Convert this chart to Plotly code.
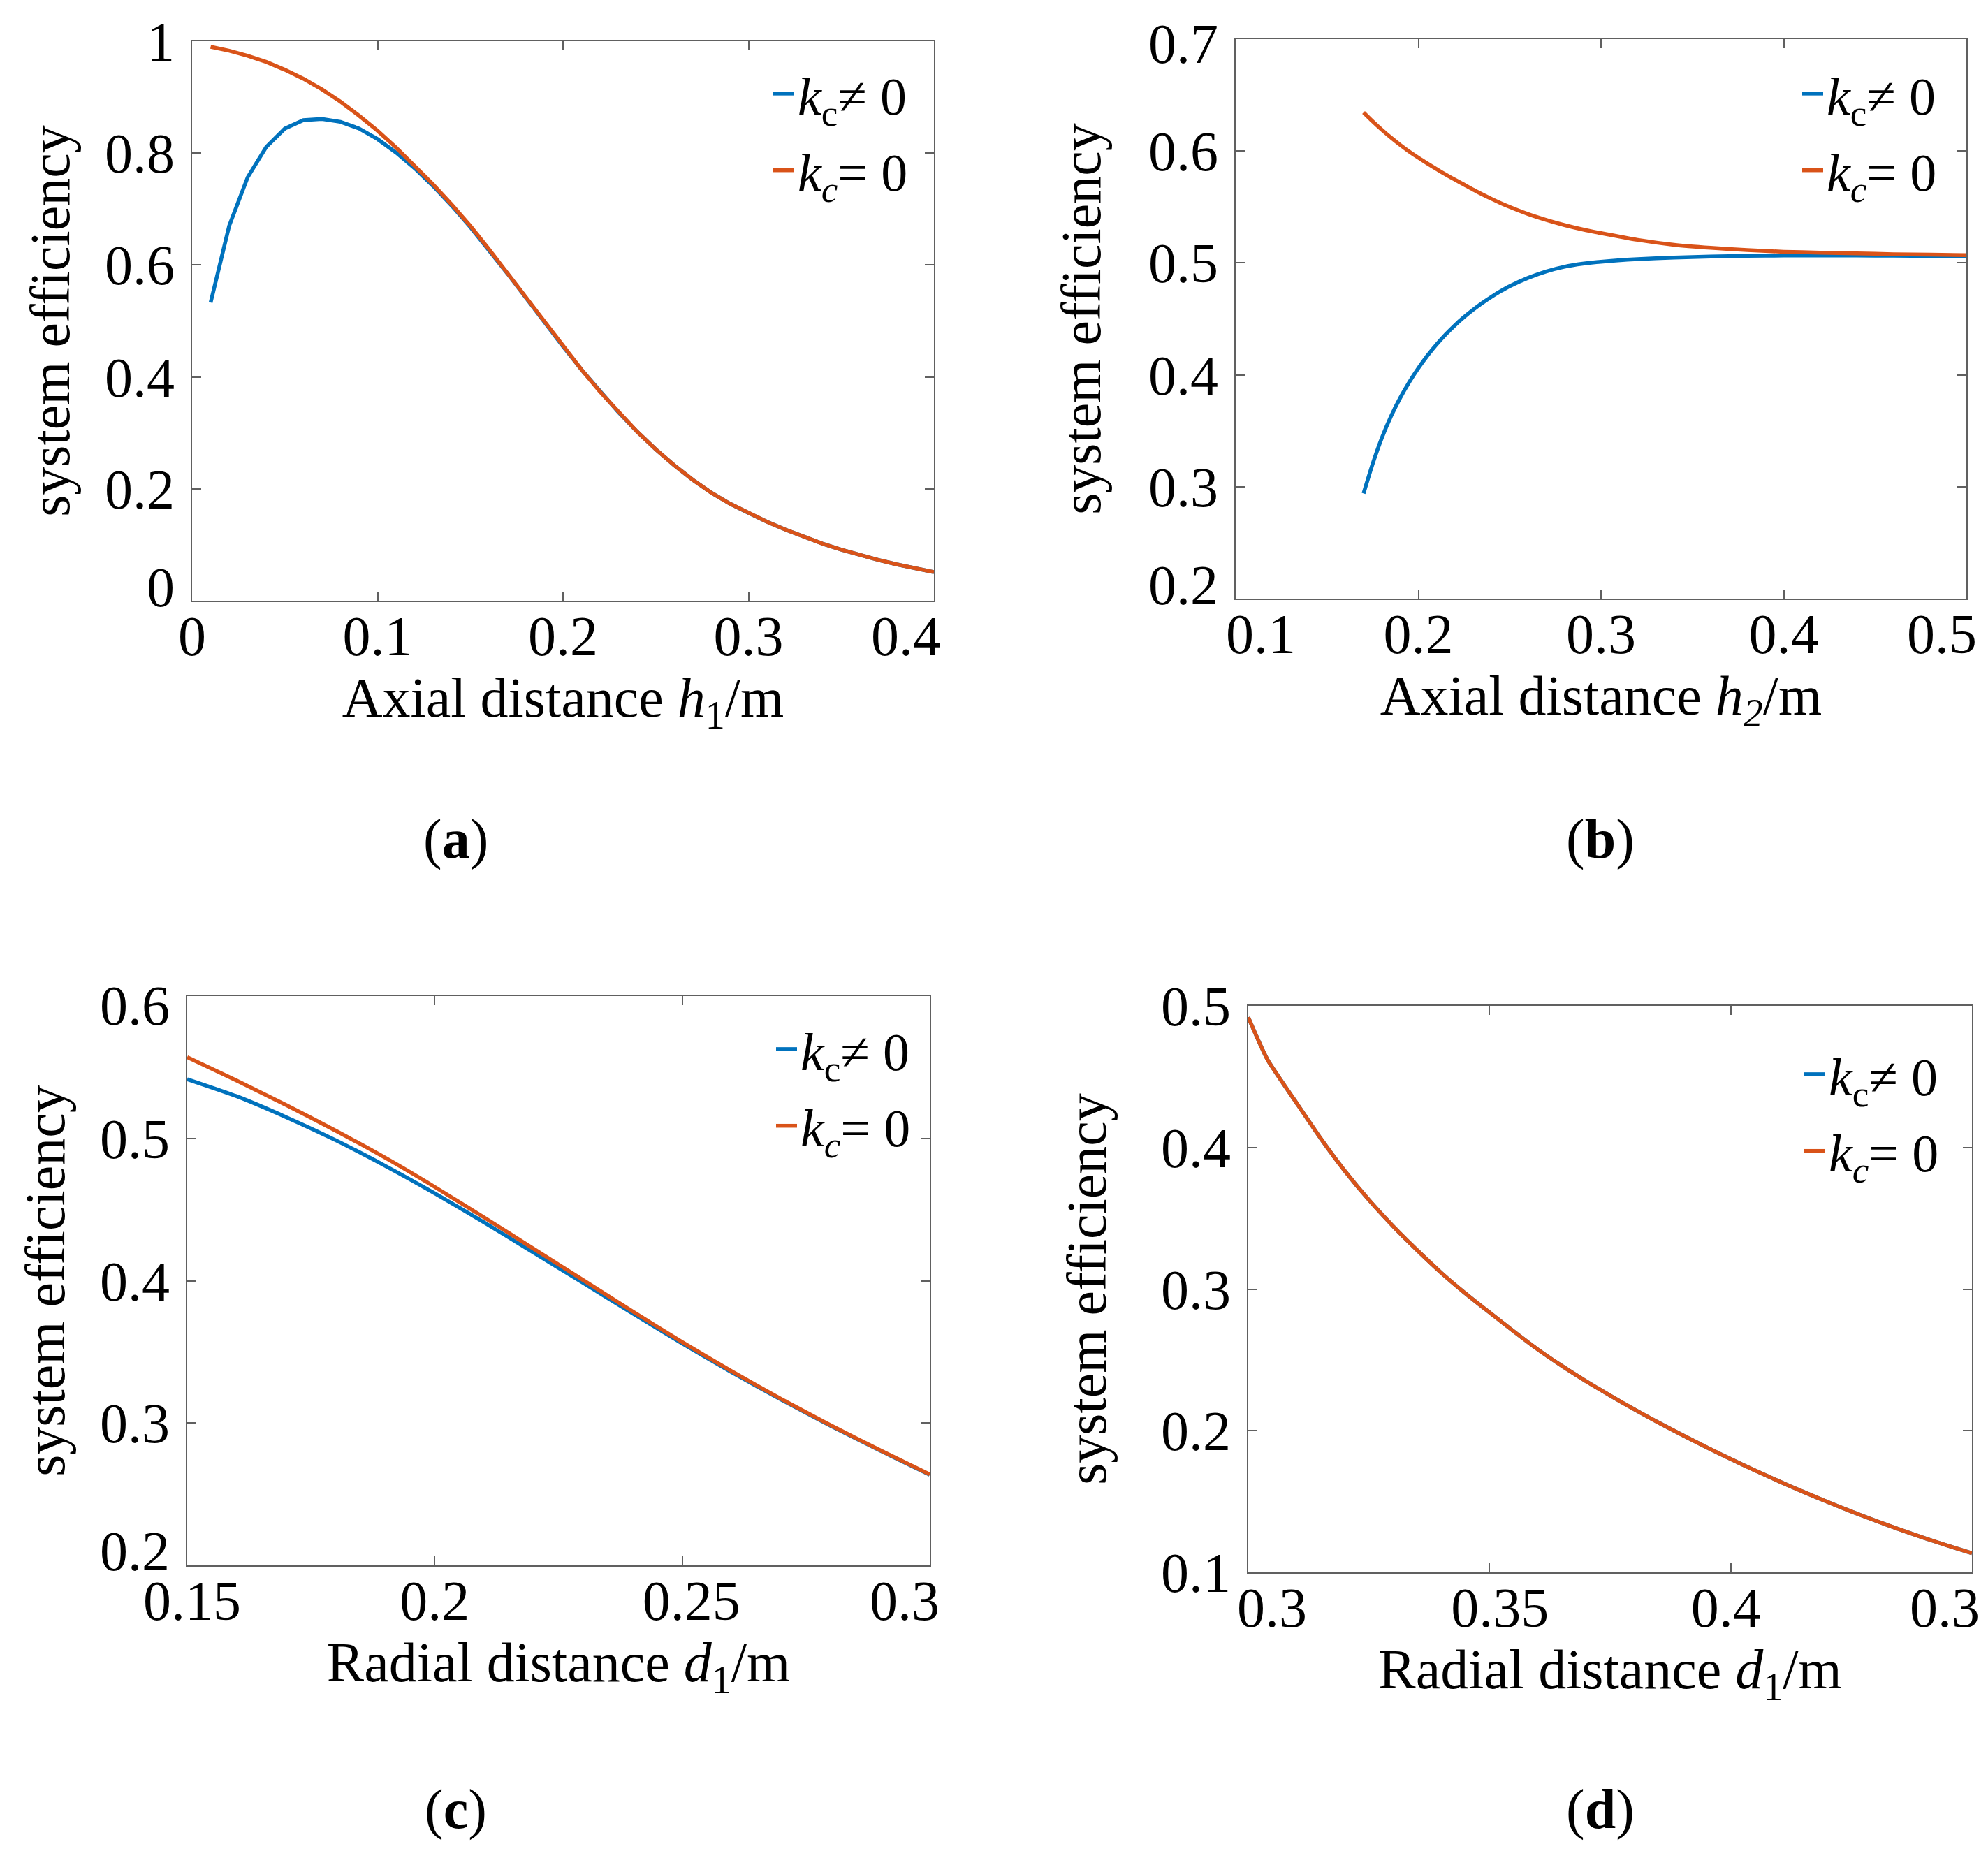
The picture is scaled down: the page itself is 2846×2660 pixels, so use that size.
import plotly.graph_objects as go

W, H = 2846, 2660
FONT = "Liberation Serif"
BLUE = "#0072BD"
ORANGE = "#D95319"

# ---------------- data ----------------
# (a) axial distance h1
a_x = [0.01, 0.02, 0.03, 0.04, 0.05, 0.06, 0.07, 0.08, 0.09, 0.10,
       0.11, 0.12, 0.13, 0.14, 0.15, 0.16, 0.17, 0.18, 0.19, 0.20,
       0.21, 0.22, 0.23, 0.24, 0.25, 0.26, 0.27, 0.28, 0.29, 0.30,
       0.31, 0.32, 0.33, 0.34, 0.35, 0.36, 0.37, 0.38, 0.39, 0.40]
a_kc = [0.533, 0.670, 0.757, 0.811, 0.844, 0.859, 0.861, 0.856, 0.844, 0.825,
        0.801, 0.773, 0.741, 0.706, 0.668, 0.627, 0.585, 0.5415, 0.4975, 0.4545,
        0.4130, 0.3735, 0.3365, 0.3020, 0.2705, 0.2420, 0.2160, 0.1930, 0.1735, 0.1570,
        0.1410, 0.1270, 0.1140, 0.1020, 0.0912, 0.0815, 0.0728, 0.0650, 0.0578, 0.0512]
a_k0 = [0.990, 0.983, 0.974, 0.963, 0.949, 0.933, 0.914, 0.892, 0.867, 0.840,
        0.810, 0.778, 0.744, 0.708, 0.670, 0.6285, 0.5855, 0.5415, 0.4975, 0.4545,
        0.4130, 0.3735, 0.3365, 0.3020, 0.2705, 0.2420, 0.2160, 0.1930, 0.1735, 0.1570,
        0.1410, 0.1270, 0.1140, 0.1020, 0.0912, 0.0815, 0.0728, 0.0650, 0.0578, 0.0512]

# (b) axial distance h2
b_x = [0.170, 0.175, 0.180, 0.185, 0.190, 0.195, 0.200, 0.205, 0.210, 0.215,
       0.220, 0.225, 0.230, 0.235, 0.240, 0.245, 0.250, 0.260, 0.270, 0.280,
       0.290, 0.300, 0.320, 0.340, 0.360, 0.380, 0.400, 0.420, 0.440, 0.460,
       0.480, 0.500]
b_kc = [0.294, 0.3205, 0.3435, 0.3628, 0.3792, 0.3934, 0.4060, 0.4172, 0.4272, 0.4362,
        0.4443, 0.4516, 0.4582, 0.4642, 0.4697, 0.4747, 0.4792, 0.4866, 0.4924, 0.4966,
        0.4993, 0.5011, 0.5034, 0.5048, 0.5057, 0.5063, 0.5066, 0.5067, 0.5066, 0.5065,
        0.5063, 0.5061]
b_k0 = [0.6345, 0.6265, 0.6190, 0.6120, 0.6055, 0.5995, 0.5940, 0.5888, 0.5838, 0.5790,
        0.5744, 0.5700, 0.5655, 0.5613, 0.5573, 0.5535, 0.5500, 0.5437, 0.5384, 0.5338,
        0.5299, 0.5266, 0.5206, 0.5162, 0.5135, 0.5115, 0.5100, 0.5092, 0.5085, 0.5078,
        0.5074, 0.5070]

# (c) radial distance d1
c_x = [0.15, 0.16, 0.17, 0.18, 0.19, 0.20, 0.21, 0.22, 0.23, 0.24,
       0.25, 0.26, 0.27, 0.28, 0.29, 0.30]
c_kc = [0.5416, 0.5296, 0.5149, 0.4987, 0.4807, 0.4614, 0.4409, 0.4197, 0.3984, 0.3770,
        0.3559, 0.3357, 0.3164, 0.2980, 0.2806, 0.2637]
c_k0 = [0.5571, 0.5406, 0.5234, 0.5054, 0.4864, 0.4659, 0.4444, 0.4224, 0.4004, 0.3784,
        0.3569, 0.3364, 0.3169, 0.2984, 0.2809, 0.2639]

# (d) radial distance d1
d_x = [0.300, 0.304, 0.310, 0.315, 0.320, 0.325, 0.330, 0.335, 0.340, 0.345,
       0.350, 0.355, 0.360, 0.365, 0.370, 0.375, 0.380, 0.385, 0.390, 0.395,
       0.400, 0.405, 0.410, 0.415, 0.420, 0.425, 0.430, 0.435, 0.440, 0.445, 0.450]
d_kc = [0.4920, 0.4620, 0.4315, 0.4065, 0.3835, 0.3630, 0.3445, 0.3275, 0.3115, 0.2970,
        0.2835, 0.2702, 0.2574, 0.2458, 0.2350, 0.2248, 0.2151, 0.2058, 0.1969, 0.1883,
        0.1800, 0.1720, 0.1643, 0.1569, 0.1498, 0.1430, 0.1365, 0.1303, 0.1244, 0.1188, 0.1135]
d_k0 = [0.4920, 0.4620, 0.4315, 0.4065, 0.3835, 0.3630, 0.3445, 0.3275, 0.3115, 0.2970,
        0.2835, 0.2702, 0.2574, 0.2458, 0.2350, 0.2248, 0.2151, 0.2058, 0.1969, 0.1883,
        0.1800, 0.1720, 0.1643, 0.1569, 0.1498, 0.1430, 0.1365, 0.1303, 0.1244, 0.1188, 0.1135]

# tick values / labels (as printed in the figure)
a_xticks = [0, 0.1, 0.2, 0.3, 0.4]
a_xtext = ["0", "0.1", "0.2", "0.3", "0.4"]
a_yticks = [0, 0.2, 0.4, 0.6, 0.8, 1]
a_ytext = ["0", "0.2", "0.4", "0.6", "0.8", "1"]
b_xticks = [0.1, 0.2, 0.3, 0.4, 0.5]
b_xtext = ["0.1", "0.2", "0.3", "0.4", "0.5"]
b_yticks = [0.2, 0.3, 0.4, 0.5, 0.6, 0.7]
b_ytext = ["0.2", "0.3", "0.4", "0.5", "0.6", "0.7"]
c_xticks = [0.15, 0.2, 0.25, 0.3]
c_xtext = ["0.15", "0.2", "0.25", "0.3"]
c_yticks = [0.2, 0.3, 0.4, 0.5, 0.6]
c_ytext = ["0.2", "0.3", "0.4", "0.5", "0.6"]
d_xticks = [0.3, 0.35, 0.4, 0.45]
d_xtext = ["0.3", "0.35", "0.4", "0.3"]
d_yticks = [0.1, 0.2, 0.3, 0.4, 0.5]
d_ytext = ["0.1", "0.2", "0.3", "0.4", "0.5"]

NAME_KC = "<i>k</i><sub>c</sub>≠ 0"
NAME_K0 = "<i>k<sub>c</sub></i>= 0"
YTITLE = "system efficiency"

# ---------------- layout ----------------
def px_x(p):
    return p / W

def px_y(p):
    return 1 - p / H

def nudge(vals, shifts_px, rng, span_px):
    # label offsets (in pixels) seen in the figure, converted to axis units
    k = (rng[1] - rng[0]) / span_px
    return [v + s * k for v, s in zip(vals, shifts_px)]

panels = [
    dict(box=(267, 1329, 51, 852), xr=[0, 0.4], yr=[0, 1],
         xt=(a_xticks, a_xtext), yt=(a_yticks, a_ytext),
         xsh=[0, 0, 0, 0, -40], ysh=[20, 0, 0, 0, 0, 0],
         xtitle="Axial distance <i>h</i><sub>1</sub>/m", label="(<b>a</b>)",
         lab_xy=(644, 1194), leg=(1094, 70), ystand=24, shape="linear",
         data=(a_x, a_kc, a_k0)),
    dict(box=(1761, 2807, 48, 849), xr=[0.1, 0.5], yr=[0.2, 0.7],
         xt=(b_xticks, b_xtext), yt=(b_yticks, b_ytext),
         xsh=[36, 0, 0, 0, -35], ysh=[20, 0, 0, 0, 0, -6],
         xtitle="Axial distance <i>h</i><sub><i>2</i></sub>/m", label="(<b>b</b>)",
         lab_xy=(2283, 1194), leg=(2567, 70), ystand=42, shape="spline",
         data=(b_x, b_kc, b_k0)),
    dict(box=(260, 1323, 1418, 2233), xr=[0.15, 0.3], yr=[0.2, 0.6],
         xt=(c_xticks, c_xtext), yt=(c_yticks, c_ytext),
         xsh=[7, 0, 13, -36], ysh=[21, 0, 0, 0, -13],
         xtitle="Radial distance <i>d</i><sub>1</sub>/m", label="(<b>c</b>)",
         lab_xy=(644, 2582), leg=(1098, 1438), ystand=24, shape="spline",
         data=(c_x, c_kc, c_k0)),
    dict(box=(1779, 2815, 1432, 2243), xr=[0.3, 0.45], yr=[0.1, 0.5],
         xt=(d_xticks, d_xtext), yt=(d_yticks, d_ytext),
         xsh=[34, 15, -7, -39], ysh=[0, 0, 0, 0, 0],
         xtitle="Radial distance <i>d</i><sub>1</sub>/m", label="(<b>d</b>)",
         lab_xy=(2283, 2582), leg=(2570, 1474), ystand=52, shape="spline",
         data=(d_x, d_kc, d_k0)),
]

fig = go.Figure()
layout = dict(
    width=W, height=H,
    margin=dict(l=0, r=0, t=0, b=0),
    paper_bgcolor="white", plot_bgcolor="white",
    font=dict(family=FONT, size=78, color="black"),
    annotations=[],
)

TICKFONT = dict(family=FONT, size=80, color="black")
TITLEFONT = dict(family=FONT, size=80, color="black")
AXCOL = "#606060"

for i, p in enumerate(panels, start=1):
    sfx = "" if i == 1 else str(i)
    lsfx = str(i + 4)          # overlay axes that carry the printed labels
    l, r, t, b = p["box"]
    xs, ykc, yk0 = p["data"]
    legname = "legend" if i == 1 else f"legend{i}"
    fig.add_trace(go.Scatter(x=xs, y=ykc, mode="lines", name=NAME_KC,
                             line=dict(color=BLUE, width=5.5, shape=p["shape"], smoothing=0.6),
                             xaxis="x" + sfx, yaxis="y" + sfx, legend=legname,
                             legendgroup=f"g{i}a"))
    fig.add_trace(go.Scatter(x=xs, y=yk0, mode="lines", name=NAME_K0,
                             line=dict(color=ORANGE, width=5.5, shape=p["shape"], smoothing=0.6),
                             xaxis="x" + sfx, yaxis="y" + sfx, legend=legname,
                             legendgroup=f"g{i}b"))
    # empty trace so the label-carrying overlay axes are drawn
    fig.add_trace(go.Scatter(x=[], y=[], mode="lines", showlegend=False,
                             hoverinfo="skip", xaxis="x" + lsfx, yaxis="y" + lsfx))

    frame = dict(showline=True, linecolor=AXCOL, linewidth=2, mirror="ticks",
                 ticks="inside", ticklen=13, tickwidth=2, tickcolor=AXCOL,
                 showgrid=False, zeroline=False, showticklabels=False,
                 automargin=False, fixedrange=True)
    layout["xaxis" + sfx] = dict(frame, domain=[px_x(l), px_x(r)], range=p["xr"],
                                 anchor="y" + sfx, tickmode="array", tickvals=p["xt"][0])
    layout["yaxis" + sfx] = dict(frame, domain=[px_y(b), px_y(t)], range=p["yr"],
                                 anchor="x" + sfx, tickmode="array", tickvals=p["yt"][0])

    labax = dict(showline=False, ticks="", showgrid=False, zeroline=False,
                 tickfont=TICKFONT, automargin=False, fixedrange=True,
                 ticklabeloverflow="allow", tickmode="array")
    layout["xaxis" + lsfx] = dict(
        labax, overlaying="x" + sfx, anchor="y" + sfx, side="bottom", range=p["xr"],
        tickvals=nudge(p["xt"][0], p["xsh"], p["xr"], r - l), ticktext=p["xt"][1],
        ticklabelstandoff=-3,
        title=dict(text=p["xtitle"], font=TITLEFONT, standoff=4))
    layout["yaxis" + lsfx] = dict(
        labax, overlaying="y" + sfx, anchor="x" + sfx, side="left", range=p["yr"],
        tickvals=nudge(p["yt"][0], p["ysh"], p["yr"], b - t), ticktext=p["yt"][1],
        ticklabelstandoff=24,
        title=dict(text=YTITLE, font=TITLEFONT, standoff=p["ystand"]))

    lx, ly = p["leg"]
    layout[legname] = dict(x=px_x(lx), y=px_y(ly), xanchor="left", yanchor="top",
                           xref="paper", yref="paper",
                           bgcolor="rgba(0,0,0,0)", borderwidth=0,
                           font=dict(family=FONT, size=76, color="black"),
                           itemwidth=30, tracegroupgap=8)
    cx, cy = p["lab_xy"]
    layout["annotations"].append(dict(
        text=p["label"], x=px_x(cx), y=px_y(cy), xref="paper", yref="paper",
        xanchor="center", yanchor="middle", showarrow=False,
        font=dict(family=FONT, size=80, color="black")))

fig.update_layout(**layout)
fig.update_layout(showlegend=True)
fig.write_html("out.html")
